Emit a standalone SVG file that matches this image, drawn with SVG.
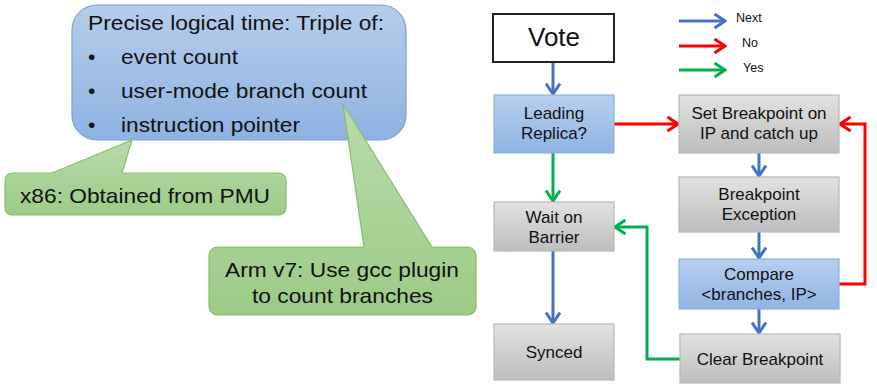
<svg xmlns="http://www.w3.org/2000/svg" width="877" height="389" viewBox="0 0 877 389">
<style>
text{font-family:"Liberation Sans",Arial,sans-serif;fill:#111}
.big{font-size:21px}
.box{font-size:17px;text-anchor:middle}
.leg{font-size:12.5px}
.blue{stroke:#4472c4;stroke-width:3;fill:none}
.red{stroke:#ff0000;stroke-width:3;fill:none}
.green{stroke:#00b050;stroke-width:3;fill:none}
.gb{fill:url(#gBlue);stroke:#8fb3e0;stroke-width:1.2}
.gg{fill:url(#gGray);stroke:#b8b8b8;stroke-width:1.2}
</style>
<defs>
<linearGradient id="gMain" x1="0" y1="0" x2="0" y2="1"><stop offset="0" stop-color="#b6cdeb"/><stop offset="1" stop-color="#8db3e2"/></linearGradient>
<linearGradient id="gBlue" x1="0" y1="0" x2="0" y2="1"><stop offset="0" stop-color="#b7cfee"/><stop offset="1" stop-color="#8fb4e3"/></linearGradient>
<linearGradient id="gGray" x1="0" y1="0" x2="0" y2="1"><stop offset="0" stop-color="#e2e2e2"/><stop offset="1" stop-color="#bdbdbd"/></linearGradient>
<linearGradient id="gGreen" x1="0" y1="0" x2="0" y2="1"><stop offset="0" stop-color="#b9dcab"/><stop offset="1" stop-color="#9ccb86"/></linearGradient>
<linearGradient id="gGreen2" gradientUnits="userSpaceOnUse" x1="0" y1="104" x2="0" y2="315"><stop offset="0" stop-color="#b9dcab"/><stop offset="1" stop-color="#9ccb86"/></linearGradient>
<marker id="mB" viewBox="0 0 14 16" refX="12" refY="8" markerWidth="14" markerHeight="16" markerUnits="userSpaceOnUse" orient="auto"><path d="M1.5,1 L12,8 L1.5,15" fill="none" stroke="#4472c4" stroke-width="3"/></marker>
<marker id="mR" viewBox="0 0 14 16" refX="12" refY="8" markerWidth="14" markerHeight="16" markerUnits="userSpaceOnUse" orient="auto"><path d="M1.5,1 L12,8 L1.5,15" fill="none" stroke="#ff0000" stroke-width="3"/></marker>
<marker id="mG" viewBox="0 0 14 16" refX="12" refY="8" markerWidth="14" markerHeight="16" markerUnits="userSpaceOnUse" orient="auto"><path d="M1.5,1 L12,8 L1.5,15" fill="none" stroke="#00b050" stroke-width="3"/></marker>
</defs>

<g id="callout-main">
<rect x="72" y="5" width="334" height="135" rx="25" fill="url(#gMain)" stroke="#7aa3d6" stroke-width="1.2"/>
<text class="big" x="88" y="30" textLength="296" lengthAdjust="spacingAndGlyphs">Precise logical time: Triple of:</text>
<text class="big" x="88" y="64">•</text><text class="big" x="121" y="64" textLength="117" lengthAdjust="spacingAndGlyphs">event count</text>
<text class="big" x="88" y="98">•</text><text class="big" x="121" y="98" textLength="246" lengthAdjust="spacingAndGlyphs">user-mode branch count</text>
<text class="big" x="88" y="132">•</text><text class="big" x="121" y="132" textLength="179" lengthAdjust="spacingAndGlyphs">instruction pointer</text>
</g>
<g id="callout-x86">
<path d="M13,173 L52,173 L132,140 L122,173 L278,173 Q286,173 286,181 L286,207 Q286,215 278,215 L13,215 Q5,215 5,207 L5,181 Q5,173 13,173 Z" fill="url(#gGreen)" stroke="#86bd6c" stroke-width="1.2"/>
<text class="big" x="20" y="203" textLength="250" lengthAdjust="spacingAndGlyphs">x86: Obtained from PMU</text>
</g>
<g id="callout-arm">
<path d="M219,247 L364,247 L343,104 L432,247 L466,247 Q476,247 476,257 L476,305 Q476,315 466,315 L219,315 Q209,315 209,305 L209,257 Q209,247 219,247 Z" fill="url(#gGreen2)" stroke="#86bd6c" stroke-width="1.2"/>
<text class="big" x="225" y="277" textLength="234" lengthAdjust="spacingAndGlyphs">Arm v7: Use gcc plugin</text>
<text class="big" x="252" y="303" textLength="181" lengthAdjust="spacingAndGlyphs">to count branches</text>
</g>

<g id="legend">
<line class="blue" x1="679" y1="21" x2="725" y2="21" marker-end="url(#mB)"/>
<text class="leg" x="736" y="22">Next</text>
<line class="red" x1="679" y1="46" x2="725" y2="46" marker-end="url(#mR)"/>
<text class="leg" x="742" y="47">No</text>
<line class="green" x1="679" y1="70" x2="725" y2="70" marker-end="url(#mG)"/>
<text class="leg" x="743" y="72">Yes</text>
</g>

<g id="connectors">
<line class="blue" x1="553" y1="62" x2="553" y2="94" marker-end="url(#mB)"/>
<line class="red" x1="614" y1="124" x2="678" y2="124" marker-end="url(#mR)"/>
<line class="green" x1="553" y1="153" x2="553" y2="201" marker-end="url(#mG)"/>
<line class="blue" x1="759" y1="153" x2="759" y2="176" marker-end="url(#mB)"/>
<line class="blue" x1="759" y1="232" x2="759" y2="258" marker-end="url(#mB)"/>
<line class="blue" x1="759" y1="309" x2="759" y2="333" marker-end="url(#mB)"/>
<polyline class="red" points="839,284 865,284 865,124 840,124" marker-end="url(#mR)"/>
<polyline class="green" points="680,359 647,359 647,227 615,227" marker-end="url(#mG)"/>
<line class="blue" x1="553" y1="251" x2="553" y2="323" marker-end="url(#mB)"/>
</g>

<g id="vote">
<rect x="493" y="14" width="121" height="48" fill="#fff" stroke="#222" stroke-width="2"/>
<text x="554" y="46" font-size="26" text-anchor="middle">Vote</text>
</g>
<g id="leading">
<rect class="gb" x="494" y="95" width="120" height="58"/>
<text class="box" x="554" y="119">Leading</text>
<text class="box" x="554" y="139">Replica?</text>
</g>
<g id="setbp">
<rect class="gg" x="679" y="95" width="160" height="58"/>
<text class="box" x="759" y="119">Set Breakpoint on</text>
<text class="box" x="759" y="139">IP and catch up</text>
</g>
<g id="bpexc">
<rect class="gg" x="679" y="177" width="160" height="55"/>
<text class="box" x="759" y="200">Breakpoint</text>
<text class="box" x="759" y="220">Exception</text>
</g>
<g id="compare">
<rect class="gb" x="679" y="259" width="160" height="50"/>
<text class="box" x="759" y="280">Compare</text>
<text class="box" x="759" y="300">&lt;branches, IP&gt;</text>
</g>
<g id="clearbp">
<rect class="gg" x="680" y="334" width="160" height="49"/>
<text class="box" x="760" y="365">Clear Breakpoint</text>
</g>
<g id="wait">
<rect class="gg" x="494" y="202" width="120" height="49"/>
<text class="box" x="554" y="223">Wait on</text>
<text class="box" x="554" y="243">Barrier</text>
</g>
<g id="synced">
<rect class="gg" x="494" y="324" width="120" height="56"/>
<text class="box" x="554" y="358">Synced</text>
</g>
</svg>
